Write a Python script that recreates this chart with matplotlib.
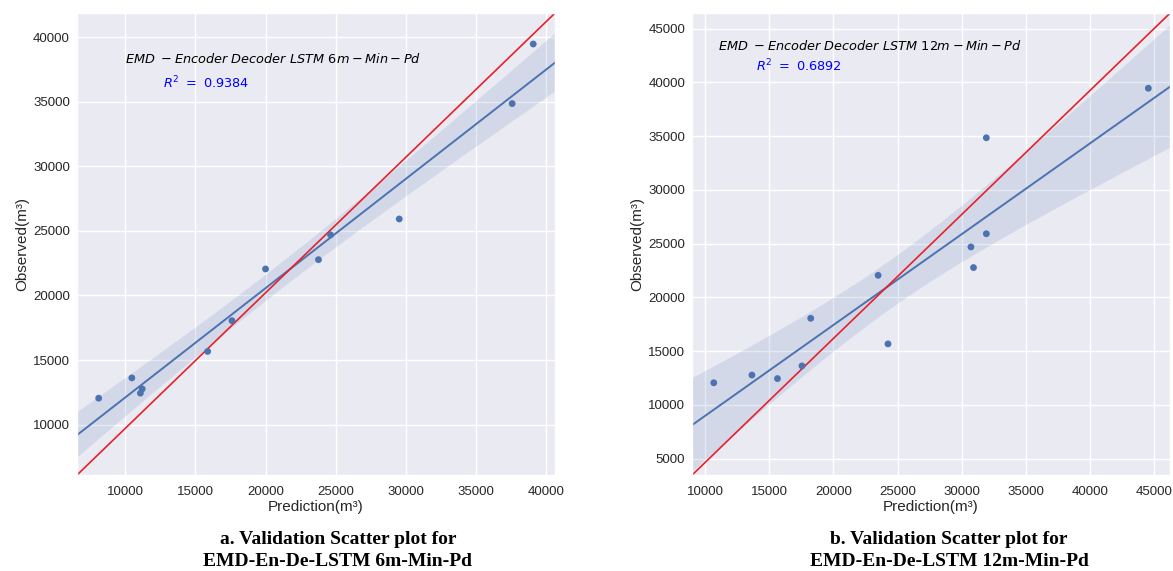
import numpy as np
import matplotlib
matplotlib.use("Agg")
import matplotlib.pyplot as plt

# Observed monthly values and the two model predictions
observed = [12050, 13620, 12440, 12770, 15670, 18050,
            22050, 22770, 24690, 25920, 34850, 39460]
pred_6m = [8120, 10480, 11090, 11220, 15880, 17610,
           20000, 23770, 24630, 29520, 37560, 39060]
pred_12m = [10680, 17550, 15640, 13650, 24250, 18230,
            23480, 30910, 30710, 31910, 31910, 44530]

r2_6m = "0.9384"
r2_12m = "0.6892"
label_6m = r"$EMD\ -Encoder\ Decoder\ LSTM\ 6m-Min-Pd$"
label_12m = r"$EMD\ -Encoder\ Decoder\ LSTM\ 12m-Min-Pd$"
caption_6m = "a. Validation Scatter plot for\nEMD-En-De-LSTM 6m-Min-Pd"
caption_12m = "b. Validation Scatter plot for\nEMD-En-De-LSTM 12m-Min-Pd"

ticks_6m_x = [10000, 15000, 20000, 25000, 30000, 35000, 40000]
ticks_6m_y = [10000, 15000, 20000, 25000, 30000, 35000, 40000]
ticks_12m_x = [10000, 15000, 20000, 25000, 30000, 35000, 40000, 45000]
ticks_12m_y = [5000, 10000, 15000, 20000, 25000, 30000, 35000, 40000, 45000]

plt.rcParams.update({
    "font.family": ["Liberation Sans", "DejaVu Sans"],
    "axes.facecolor": "#EAEAF2",
    "axes.edgecolor": "white",
    "axes.linewidth": 1.0,
    "axes.grid": True,
    "axes.axisbelow": True,
    "grid.color": "white",
    "grid.linewidth": 1.0,
    "xtick.major.size": 0,
    "ytick.major.size": 0,
    "xtick.major.pad": 8,
    "ytick.major.pad": 5,
    "xtick.color": ".15",
    "ytick.color": ".15",
    "axes.labelcolor": ".15",
    "text.color": ".15",
    "xtick.labelsize": 9.5,
    "ytick.labelsize": 9.5,
    "axes.labelsize": 11,
})

BLUE = "#4C72B0"


def reg_panel(ax, x, y, label, r2, label_pos, r2_pos, ylim):
    x = np.asarray(x, float)
    y = np.asarray(y, float)
    ax.scatter(x, y, s=24, color=BLUE, edgecolors="none", zorder=3)
    xlim = ax.get_xlim()

    # least-squares fit with a 95% confidence band for the mean
    n = len(x)
    b, a = np.polyfit(x, y, 1)
    grid = np.linspace(xlim[0], xlim[1], 100)
    yhat = a + b * grid
    resid = y - (a + b * x)
    s = np.sqrt(np.sum(resid ** 2) / (n - 2))
    sxx = np.sum((x - x.mean()) ** 2)
    se = s * np.sqrt(1.0 / n + (grid - x.mean()) ** 2 / sxx)
    t = 2.228
    ax.plot(grid, yhat, color=BLUE, lw=1.4, zorder=2)
    ax.fill_between(grid, yhat - t * se, yhat + t * se,
                    facecolor=BLUE, alpha=0.15, lw=0)
    ax.set_xlim(xlim)
    ax.set_ylim(ylim)

    # corner-to-corner reference diagonal
    xl, yl = ax.get_xlim(), ax.get_ylim()
    ax.plot(xl, yl, color="#E8202A", lw=1.2, scalex=False, scaley=False,
            zorder=2.5)

    ax.text(label_pos[0], label_pos[1], label, fontsize=9.3, color="black",
            ha="left", va="baseline")
    ax.text(r2_pos[0], r2_pos[1], r"$R^2\ =\ %s$" % r2, fontsize=9.3,
            color="blue", ha="left", va="baseline")

    ax.set_xlabel("Prediction(m\u00b3)", labelpad=1)
    ax.set_ylabel("Observed(m\u00b3)", labelpad=3)


fig = plt.figure(figsize=(11.73, 5.71), dpi=100)
ax1 = fig.add_axes([0.0656, 0.168, 0.4075, 0.809])
ax2 = fig.add_axes([0.590, 0.168, 0.4075, 0.809])

reg_panel(ax1, pred_6m, observed, label_6m, r2_6m,
          (10000, 38000), (12700, 36000), (6100, 41850))
reg_panel(ax2, pred_12m, observed, label_12m, r2_12m,
          (11000, 43000), (14000, 41000), (3460, 46450))

ax1.set_xticks(ticks_6m_x)
ax1.set_yticks(ticks_6m_y)
ax2.set_xticks(ticks_12m_x)
ax2.set_yticks(ticks_12m_y)

for xc, cap in ((0.288, caption_6m), (0.809, caption_12m)):
    fig.text(xc, 0.036, cap, ha="center", va="center", fontsize=14,
             fontweight="bold", color="black", family="Liberation Serif",
             linespacing=1.4)

fig.savefig("out.png", dpi=100)
